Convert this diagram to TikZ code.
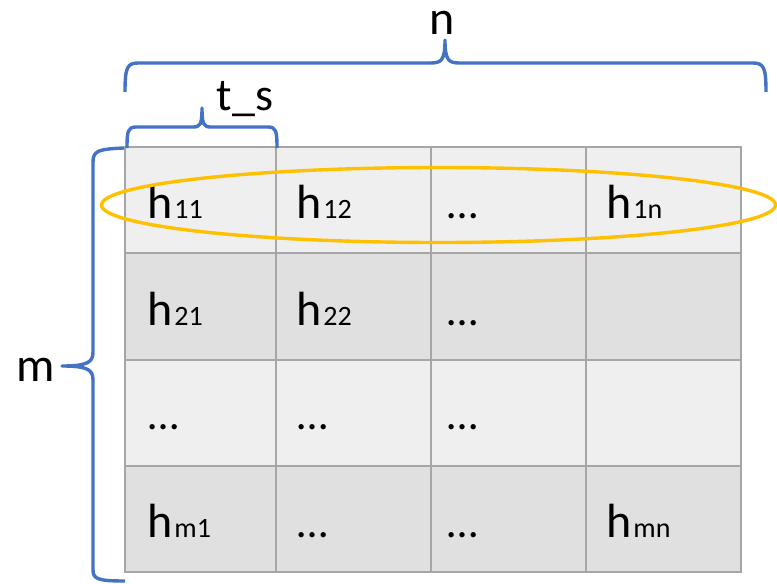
\documentclass[tikz,border=0pt]{standalone}
\usepackage{fontspec}
\setmainfont{Carlito}
\definecolor{lightcell}{HTML}{EFEFEF}
\definecolor{darkcell}{HTML}{E0E0E0}
\definecolor{gridgray}{HTML}{A6A6A6}
\definecolor{braceblue}{HTML}{4472C4}
\definecolor{ringgold}{HTML}{FFC000}
\tikzset{
  cell/.style={draw=gridgray, line width=2.5pt, inner sep=0pt, outer sep=0pt},
  lite/.style={cell, fill=lightcell},
  dark/.style={cell, fill=darkcell},
  txt/.style={anchor=base west, inner sep=0pt, font=\fontsize{44}{48}\selectfont},
  lbl/.style={anchor=base, inner sep=0pt, font=\fontsize{48}{52}\selectfont},
  brace/.style={draw=braceblue, line width=3.4pt, line join=round},
  ring/.style={draw=ringgold, line width=3.4pt}
}
\newcommand{\hh}[1]{{\fontsize{48}{52}\selectfont h}\kern2pt{\fontsize{28}{30}\selectfont #1}}
\begin{document}
\begin{tikzpicture}[x=1pt,y=-1pt]
\useasboundingbox (0,0) rectangle (777,584);
% cells
\foreach \r/\ya/\yb/\st in {1/147/253/lite,2/253/360/dark,3/360/466/lite,4/466/572/dark}{
  \foreach \c/\xa/\xb in {1/125/276,2/276/431,3/431/586,4/586/741}{
    \path[\st] (\xa,\ya) rectangle (\xb,\yb);
  }
}
% grid lines
\draw[draw=gridgray, line width=2.5pt] (125,147) rectangle (741,572);
\foreach \x in {276,431,586} \draw[draw=gridgray, line width=2.5pt] (\x,147) -- (\x,572);
\foreach \y in {253,360,466} \draw[draw=gridgray, line width=2.5pt] (125,\y) -- (741,\y);
% texts
\node[txt] (t11) at (147,218) {\hh{11}};
\node[txt] (t12) at (296,218) {\hh{12}};
\node[txt] (t13) at (447,218) {…};
\node[txt] (t14) at (606,218) {\hh{1n}};
\node[txt] (t21) at (147,325) {\hh{21}};
\node[txt] (t22) at (296,325) {\hh{22}};
\node[txt] (t23) at (447,325) {…};
\node[txt] (t31) at (148,429) {…};
\node[txt] (t32) at (297,429) {…};
\node[txt] (t33) at (447,429) {…};
\node[txt] (t41) at (147,537) {\hh{m1}};
\node[txt] (t42) at (297,537) {…};
\node[txt] (t43) at (447,537) {…};
\node[txt] (t44) at (606,537) {\hh{mn}};
% ellipse
\draw[ring] (438.5,205) ellipse [x radius=337, y radius=37.5];
% top brace n
\coordinate (nL) at (125,92);
\coordinate (nR) at (766,92);
\coordinate (nT) at (445,40);
\draw[brace] (nL) .. controls (125,68) and (127,63) .. (138,63) -- (430,63)
  .. controls (441,63) and (445,61) .. (nT)
  .. controls (445,61) and (449,63) .. (460,63) -- (753,63)
  .. controls (764,63) and (766,68) .. (nR);
\node[lbl] (n) at (442,34) {n};
% t_s brace
\coordinate (sL) at (127,148);
\coordinate (sR) at (277,148);
\coordinate (sT) at (202,108);
\draw[brace] (sL) .. controls (127,131) and (128,127) .. (136,127) -- (193,127)
  .. controls (200,127) and (202,125) .. (sT)
  .. controls (202,125) and (204,127) .. (211,127) -- (268,127)
  .. controls (276,127) and (277,131) .. (sR);
\node[anchor=base, inner sep=0pt, font=\fontsize{46}{50}\selectfont] (ts) at (245,110) {t\_s};
% left brace m
\coordinate (mT) at (124,148);
\coordinate (mB) at (125,581);
\coordinate (mP) at (62,366);
\draw[brace] (mT) .. controls (98,149) and (93,151) .. (93,162) -- (93,352)
  .. controls (93,362) and (88,366) .. (mP)
  .. controls (88,366) and (93,370) .. (93,380) -- (93,570)
  .. controls (93,579) and (98,581) .. (mB);
\node[anchor=base, inner sep=0pt, font=\fontsize{48}{52}\selectfont] (m) at (36,381) {m};
\end{tikzpicture}
\end{document}
